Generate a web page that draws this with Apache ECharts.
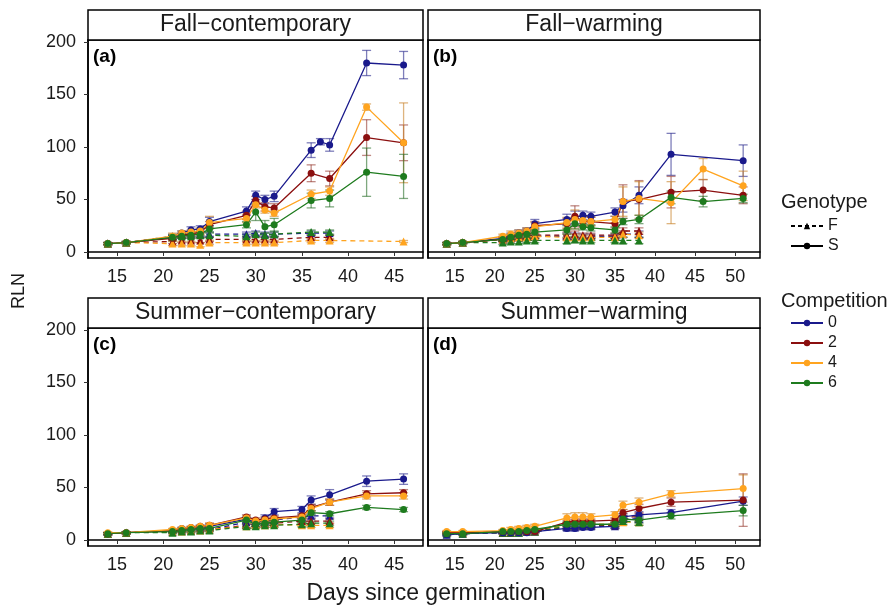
<!DOCTYPE html>
<html lang="en">
<head>
<meta charset="UTF-8">
<title>RLN over days since germination</title>
<script src="https://cdn.jsdelivr.net/npm/echarts@6/dist/echarts.min.js"></script>
<style>
    html,body{margin:0;padding:0;background:#fff;}
    #main{width:893px;height:606px;}
</style>
</head>
<body>
<div id="main"></div>
<script>
// ---- data ----
var panelTitles = ['Fall\u2212contemporary', 'Fall\u2212warming', 'Summer\u2212contemporary', 'Summer\u2212warming'];
var panelTags = ['(a)', '(b)', '(c)', '(d)'];
var compNames = ['0', '2', '4', '6'];
var yTicks = [0, 50, 100, 150, 200];
var xTicksShort = [15, 20, 25, 30, 35, 40, 45];
var xTicksLong = [15, 20, 25, 30, 35, 40, 45, 50];

// (a) Fall-contemporary
var aDaysS = [14, 16, 21, 22, 23, 24, 25, 29, 30, 31, 32, 36, 37, 38, 42, 46];
var aS0 = [8, 9, 14, 18, 21, 22, 29, 39, 54, 50, 53, 97, 105, 102, 180, 178];
var aS2 = [8, 9, 13, 16, 17, 19, 26, 35, 49, 43, 42, 75, null, 70, 109, 104];
var aS4 = [8, 9, 15, 18, 19, 20, 28, 32, 45, 40, 37, 55, null, 58, 138, 104];
var aS6 = [8, 9, 14, 15, 16, 17, 22, 26, 38, 24, 26, 49, null, 51, 76, 72];
var aErr0 = [1, 1, 2, 2, 3, 3, 4, 4, 4, 4, 5, 7, 3, 6, 12, 13];
var aErr2 = [1, 1, 2, 2, 2, 3, 3, 4, 4, 4, 4, 8, null, 7, 17, 17];
var aErr4 = [1, 1, 3, 2, 2, 3, 6, 4, 3, 3, 3, 4, null, 4, 3, 38];
var aErr6 = [1, 1, 2, 2, 2, 3, 3, 3, 8, 6, 6, 7, null, 8, 23, 21];
var aDaysF = [14, 16, 21, 22, 23, 24, 25, 29, 30, 31, 32, 36, 38, 46];
var aF0 = [8, 9, 15, 16, 17, 17, 17, 17, 18, 17, 17, 18, 18, null];
var aF2 = [8, 9, 10, 11, 11, 11, 12, 12, 12, 12, 12, 14, 14, null];
var aF4 = [8, 9, 8, 8, 8, 7, 9, 9, 9, 9, 9, 11, 11, 10];
var aF6 = [8, 9, 14, 15, 15, 16, 16, 15, 17, 16, 17, 19, 19, null];
var aErrF = [1, 1, 2, 2, 2, 2, 2, 2, 2, 2, 2, 2, 2, 1];

// (b) Fall-warming
var bDaysS = [14, 16, 21, 22, 23, 24, 25, 29, 30, 31, 32, 35, 36, 38, 42, 46, 51];
var bS0 = [8, 9, 13, 16, 18, 20, 27, 31, 33, 35, 34, 38, 44, 54, 93, null, 87];
var bS2 = [8, 9, 12, 14, 16, 19, 25, 27, 34, 29, 29, 27, 48, 50, 57, 59, 54];
var bS4 = [8, 9, 15, 17, 18, 20, 24, 28, 31, 30, 29, 31, 48, 51, 47, 79, 63];
var bS6 = [8, 9, 12, 14, 16, 17, 19, 21, 27, 24, 23, 21, 29, 31, 52, 48, 51];
var bErr0 = [1, 1, 2, 2, 3, 3, 4, 5, 6, 4, 4, 4, 6, 8, 20, null, 15];
var bErr2 = [1, 1, 2, 2, 3, 3, 4, 5, 10, 5, 4, 4, 16, 18, 15, 10, 8];
var bErr4 = [1, 1, 2, 3, 3, 3, 4, 5, 9, 4, 4, 3, 14, 16, 20, 10, 14];
var bErr6 = [1, 1, 2, 2, 2, 3, 3, 4, 5, 3, 3, 3, 3, 4, 6, 5, 4];
var bDaysF = [14, 16, 21, 22, 23, 24, 25, 29, 30, 31, 32, 35, 36, 38];
var bF0 = [8, 9, 12, 13, 14, 15, 15, 15, 15, 15, 15, 15, 17, 17];
var bF2 = [8, 9, 12, 13, 14, 15, 16, 16, 17, 16, 16, 16, 20, 20];
var bF4 = [8, 9, 12, 13, 14, 14, 15, 14, 14, 14, 14, 14, 17, 16];
var bF6 = [8, 9, 9, 10, 10, 11, 11, 11, 12, 11, 11, 11, 11, 11];
var bErrF = [1, 1, 2, 2, 2, 2, 2, 3, 3, 2, 2, 2, 3, 3];

// (c) Summer-contemporary
var cDaysS = [14, 16, 21, 22, 23, 24, 25, 29, 30, 31, 32, 35, 36, 38, 42, 46];
var cS0 = [6, 7, 9, 11, 11, 12, 13, 20, 17, 21, 27, 29, 38, 43, 56, 58];
var cS2 = [6, 7, 9, 10, 12, 13, 14, 22, 19, 20, 21, 23, 31, 36, 44, 45];
var cS4 = [7, 7, 10, 11, 12, 13, 14, 21, 18, 19, 20, 22, 30, 36, 42, 42];
var cS6 = [6, 7, 8, 9, 10, 11, 11, 19, 15, 16, 17, 19, 26, 25, 31, 29];
var cErr0 = [1, 1, 1, 1, 1, 2, 2, 2, 2, 3, 3, 3, 4, 5, 5, 5];
var cErr2 = [1, 1, 1, 1, 1, 1, 2, 2, 2, 2, 2, 2, 3, 3, 3, 3];
var cErr4 = [1, 1, 1, 1, 1, 1, 2, 2, 2, 2, 2, 2, 3, 3, 3, 3];
var cErr6 = [1, 1, 1, 1, 1, 1, 1, 2, 2, 2, 2, 2, 2, 2, 2, 2];
var cDaysF = [14, 16, 21, 22, 23, 24, 25, 29, 30, 31, 32, 35, 36, 38];
var cF0 = [6, 7, 8, 9, 9, 10, 10, 17, 17, 18, 19, 22, 23, 23];
var cF2 = [6, 7, 8, 9, 9, 10, 10, 14, 15, 16, 16, 18, 18, 18];
var cF4 = [6, 7, 8, 8, 9, 9, 10, 13, 14, 14, 15, 14, 14, 14];
var cF6 = [6, 7, 7, 8, 8, 9, 9, 13, 13, 14, 14, 15, 16, 16];
var cErrF = [1, 1, 1, 1, 1, 1, 1, 2, 2, 2, 2, 2, 2, 2];

// (d) Summer-warming
var dDaysS = [14, 16, 21, 22, 23, 24, 25, 29, 30, 31, 32, 35, 36, 38, 42, 51];
var dS0 = [5, 6, 7, 7, 7, 7, 8, 11, 11, 12, 12, 13, 22, 24, 26, 37];
var dS2 = [7, 7, 8, 8, 8, 8, 8, 17, 18, 18, 18, 19, 26, 30, 36, 38];
var dS4 = [8, 8, 9, 10, 11, 12, 13, 21, 22, 22, 22, 24, 33, 36, 44, 49];
var dS6 = [6, 6, 8, 8, 8, 9, 10, 15, 15, 15, 15, 15, 20, 19, 23, 28];
var dErr0 = [1, 1, 1, 1, 1, 1, 1, 2, 2, 2, 2, 2, 3, 3, 3, 4];
var dErr2 = [1, 1, 1, 1, 1, 1, 1, 2, 2, 2, 2, 2, 3, 4, 4, 25];
var dErr4 = [1, 1, 1, 2, 2, 2, 2, 4, 4, 4, 3, 3, 4, 4, 3, 13];
var dErr6 = [1, 1, 1, 1, 1, 1, 1, 2, 2, 2, 2, 2, 3, 3, 3, 5];
var dDaysF = [14, 16, 21, 22, 23, 24, 25, 29, 30, 31, 32, 35, 36, 38];
var dF0 = [5, 6, 7, 7, 7, 8, 8, 12, 12, 13, 13, 13, 20, 20];
var dF2 = [7, 7, 7, 7, 8, 8, 8, 13, 13, 14, 14, 14, 22, 22];
var dF4 = [7, 7, 8, 8, 9, 9, 9, 14, 14, 14, 15, 15, 17, 17];
var dF6 = [6, 6, 7, 7, 7, 8, 8, 13, 14, 14, 14, 15, 18, 17];
var dErrF = [1, 1, 1, 1, 1, 1, 1, 2, 2, 2, 2, 2, 3, 3];

// ---- styling ----
var compColors = ['#1a1a8c', '#8b0f0f', '#ffa41f', '#1e7b1e'];
var errColors = ['rgba(40,40,140,0.6)', 'rgba(140,40,30,0.55)', 'rgba(200,130,40,0.6)', 'rgba(40,110,40,0.6)'];
var fontFam = '"Liberation Sans", Arial, Helvetica, sans-serif';
var txtColor = '#1a1a1a';

var panels = [
    {daysS: aDaysS, S: [aS0, aS2, aS4, aS6], errS: [aErr0, aErr2, aErr4, aErr6], daysF: aDaysF, F: [aF0, aF2, aF4, aF6], errF: aErrF},
    {daysS: bDaysS, S: [bS0, bS2, bS4, bS6], errS: [bErr0, bErr2, bErr4, bErr6], daysF: bDaysF, F: [bF0, bF2, bF4, bF6], errF: bErrF},
    {daysS: cDaysS, S: [cS0, cS2, cS4, cS6], errS: [cErr0, cErr2, cErr4, cErr6], daysF: cDaysF, F: [cF0, cF2, cF4, cF6], errF: cErrF},
    {daysS: dDaysS, S: [dS0, dS2, dS4, dS6], errS: [dErr0, dErr2, dErr4, dErr6], daysF: dDaysF, F: [dF0, dF2, dF4, dF6], errF: dErrF}
];

var grids = [
    {left: 88, top: 40, width: 335, height: 218},
    {left: 428, top: 40, width: 332, height: 218},
    {left: 88, top: 328, width: 335, height: 218},
    {left: 428, top: 328, width: 332, height: 218}
];
var xRange = [[11.86, 48.1], [11.67, 53.1], [11.86, 48.1], [11.67, 53.1]];

function pairs(days, vals) {
    var out = [];
    for (var i = 0; i < days.length; i++) {
        if (vals[i] != null) out.push([days[i], vals[i]]);
    }
    return out;
}
function errData(days, vals, errs) {
    var out = [];
    for (var i = 0; i < days.length; i++) {
        if (vals[i] != null && errs[i] != null) out.push([days[i], vals[i] - errs[i], vals[i] + errs[i]]);
    }
    return out;
}
function errRender(color) {
    return function (params, api) {
        var x = api.value(0);
        var top = api.coord([x, api.value(2)]);
        var bot = api.coord([x, api.value(1)]);
        var w = 4.5;
        var st = {stroke: color, lineWidth: 1.3};
        return {type: 'group', children: [
            {type: 'line', shape: {x1: top[0], y1: top[1], x2: bot[0], y2: bot[1]}, style: st},
            {type: 'line', shape: {x1: top[0] - w, y1: top[1], x2: top[0] + w, y2: top[1]}, style: st},
            {type: 'line', shape: {x1: bot[0] - w, y1: bot[1], x2: bot[0] + w, y2: bot[1]}, style: st}
        ]};
    };
}

var xAxes = [], yAxes = [], series = [], graphics = [];
grids.forEach(function (g, p) {
    g.show = true;
    g.borderColor = '#000';
    g.borderWidth = 1.5;
    g.backgroundColor = '#fff';
    var ticks = (p % 2 === 0) ? xTicksShort : xTicksLong;
    xAxes.push({
        type: 'value', gridIndex: p, min: xRange[p][0], max: xRange[p][1],
        axisLine: {show: true, lineStyle: {color: '#000', width: 1.5}},
        axisTick: {show: true, customValues: ticks, length: 4, lineStyle: {color: '#333'}},
        axisLabel: {customValues: ticks, margin: 10, fontSize: 18, color: txtColor, fontFamily: fontFam},
        splitLine: {show: false}
    });
    yAxes.push({
        type: 'value', gridIndex: p, min: -5.7, max: 201.9,
        axisLine: {show: true, lineStyle: {color: '#000', width: 1.5}},
        axisTick: {show: p % 2 === 0, customValues: yTicks, length: 4, lineStyle: {color: '#333'}},
        axisLabel: {show: p % 2 === 0, customValues: yTicks, margin: 12, fontSize: 18, color: txtColor, fontFamily: fontFam},
        splitLine: {show: false}
    });

    var pd = panels[p];
    // F genotype (dashed, triangles)
    for (var k = 0; k < 4; k++) {
        series.push({
            type: 'custom', name: 'errF' + p + k, xAxisIndex: p, yAxisIndex: p,
            renderItem: errRender(errColors[k]), encode: {x: 0, y: [1, 2]},
            data: errData(pd.daysF, pd.F[k], pd.errF), silent: true, z: 1
        });
        series.push({
            type: 'line', name: 'F' + p + k, xAxisIndex: p, yAxisIndex: p,
            data: pairs(pd.daysF, pd.F[k]),
            symbol: 'triangle', symbolSize: 8,
            lineStyle: {color: compColors[k], width: 1.3, type: [5, 4]},
            itemStyle: {color: compColors[k]}, z: 2, animation: false
        });
    }
    // S genotype (solid, dots)
    for (var k2 = 0; k2 < 4; k2++) {
        series.push({
            type: 'custom', name: 'errS' + p + k2, xAxisIndex: p, yAxisIndex: p,
            renderItem: errRender(errColors[k2]), encode: {x: 0, y: [1, 2]},
            data: errData(pd.daysS, pd.S[k2], pd.errS[k2]), silent: true, z: 3
        });
        series.push({
            type: 'line', name: 'S' + p + k2, xAxisIndex: p, yAxisIndex: p,
            data: pairs(pd.daysS, pd.S[k2]),
            symbol: 'circle', symbolSize: 7,
            lineStyle: {color: compColors[k2], width: 1.3},
            itemStyle: {color: compColors[k2]}, z: 4, animation: false
        });
    }

    // strip header
    var sy = g.top - 30;
    graphics.push({type: 'rect', shape: {x: g.left, y: sy, width: g.width, height: 30},
        style: {fill: '#fff', stroke: '#000', lineWidth: 1.5}});
    graphics.push({type: 'text', x: g.left + g.width / 2, y: sy + 15,
        style: {text: panelTitles[p], fontSize: 23, fontFamily: fontFam, fill: txtColor, align: 'center', verticalAlign: 'middle'}});
    graphics.push({type: 'text', x: g.left + 5, y: g.top + 17,
        style: {text: panelTags[p], fontSize: 19, fontWeight: 'bold', fontFamily: fontFam, fill: '#000', verticalAlign: 'middle'}});
});

// legend-only dummy series
series.push({type: 'line', name: 'F', data: [], xAxisIndex: 0, yAxisIndex: 0, symbol: 'triangle', symbolSize: 6,
    lineStyle: {color: '#000', width: 1.3, type: [4, 3]}, itemStyle: {color: '#000'}});
series.push({type: 'line', name: 'S', data: [], xAxisIndex: 0, yAxisIndex: 0, symbol: 'circle', symbolSize: 5,
    lineStyle: {color: '#000', width: 1.3}, itemStyle: {color: '#000'}});
compNames.forEach(function (n, k) {
    series.push({type: 'line', name: n, data: [], xAxisIndex: 0, yAxisIndex: 0, symbol: 'circle', symbolSize: 5,
        lineStyle: {color: compColors[k], width: 1.5}, itemStyle: {color: compColors[k]}});
});

graphics.push({type: 'text', x: 19, y: 291, rotation: Math.PI / 2,
    style: {text: 'RLN', fontSize: 18, fontFamily: fontFam, fill: txtColor, align: 'center', verticalAlign: 'middle'}});
graphics.push({type: 'text', x: 426, y: 594,
    style: {text: 'Days since germination', fontSize: 23, fontFamily: fontFam, fill: txtColor, align: 'center', verticalAlign: 'middle'}});
graphics.push({type: 'text', x: 781, y: 202,
    style: {text: 'Genotype', fontSize: 20, fontFamily: fontFam, fill: txtColor, verticalAlign: 'middle'}});
graphics.push({type: 'text', x: 781, y: 301,
    style: {text: 'Competition', fontSize: 20, fontFamily: fontFam, fill: txtColor, verticalAlign: 'middle'}});

var legendText = {fontSize: 16, lineHeight: 14, fontFamily: fontFam, color: txtColor};
var option = {
    animation: false,
    backgroundColor: '#fff',
    grid: grids,
    xAxis: xAxes,
    yAxis: yAxes,
    legend: [
        {data: ['F', 'S'], orient: 'vertical', left: 785, top: 213, itemWidth: 32, itemHeight: 8, itemGap: 4,
            textStyle: legendText, selectedMode: false},
        {data: compNames, orient: 'vertical', left: 785, top: 310, itemWidth: 32, itemHeight: 8, itemGap: 4,
            textStyle: legendText, selectedMode: false}
    ],
    graphic: graphics,
    series: series
};

var myChart = echarts.init(document.getElementById('main'));
myChart.setOption(option);
</script>
</body>
</html>
